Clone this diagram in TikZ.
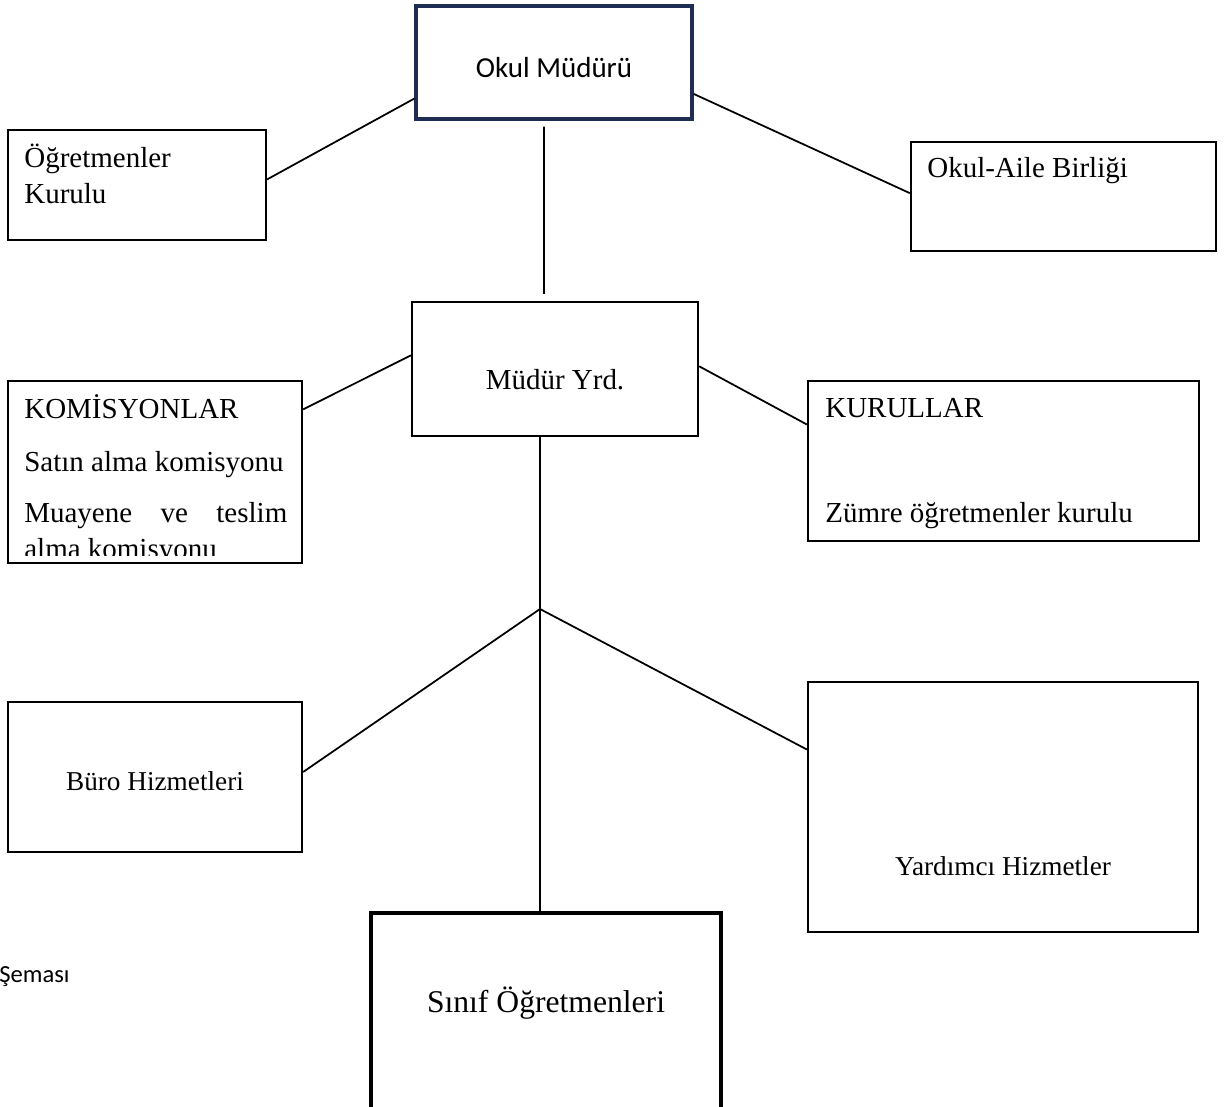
\documentclass[tikz,border=0pt]{standalone}
\usepackage{fontspec}
\setmainfont{Liberation Serif}
\newfontfamily\calibri{Carlito}
\usetikzlibrary{fit,calc}
\definecolor{headblue}{HTML}{1F2D55}

\begin{document}
\begin{tikzpicture}[x=0.02cm,y=-0.02cm,font=\fontsize{16.5}{20}\selectfont,box/.style={draw,line width=1.3pt,inner sep=0pt},bigbox/.style={draw,line width=1.8pt,inner sep=0pt},headbox/.style={draw=headblue,line width=1.8pt,inner sep=0pt},txt/.style={anchor=base west,inner sep=0pt},ctxt/.style={anchor=base,inner sep=0pt},link/.style={line width=1pt}]
\useasboundingbox (0,0) rectangle (1227,1106);
\clip (0,0) rectangle (1227,1106);
% boxes
\node[headbox,fit={(416,6) (692,119)}] (okul) {};
\node[box,fit={(8,130) (266,240)}] (ogrkurul) {};
\node[box,fit={(911,142) (1216,251)}] (aile) {};
\node[box,fit={(412,302) (698,436)}] (yrd) {};
\node[box,fit={(8,381) (302,563)}] (komisyon) {};
\node[box,fit={(808,381) (1199,541)}] (kurullar) {};
\node[box,fit={(8,702) (302,852)}] (buro) {};
\node[box,fit={(808,682) (1198,932)}] (yardimci) {};
\node[bigbox,fit={(371,913) (721,1130)}] (sinif) {};
% texts
\node[ctxt,font=\calibri\fontsize{16.5}{20}\selectfont] (okult) at (554,77) {Okul Müdürü};
\node[txt] (ogrt1) at (24,167) {Öğretmenler};\node[txt] (ogrt2) at (24,203) {Kurulu};
\node[txt] (ailet) at (927,177) {Okul-Aile Birliği};
\node[ctxt] (yrdt) at (555,389) {Müdür Yrd.};
\begin{scope}
\clip (10,383) rectangle (300,555);
\node[txt] (kom1) at (24,418) {KOMİSYONLAR};
\node[txt] (kom2) at (24,471) {Satın alma komisyonu};
\node[txt] (kom3) at (24,522) {\makebox[5.26cm][s]{Muayene ve teslim}};
\node[txt] (kom4) at (24,558) {alma komisyonu};
\end{scope}
\node[txt] (kur1) at (825,417) {KURULLAR};\node[txt] (kur2) at (825,522) {Zümre öğretmenler kurulu};
\node[ctxt,font=\fontsize{15.5}{19}\selectfont] (burot) at (155,790) {Büro Hizmetleri};
\node[ctxt,font=\fontsize{15.5}{19}\selectfont] (yardimcit) at (1003,875) {Yardımcı Hizmetler};
\node[ctxt,font=\fontsize{18}{22}\selectfont] (sinift) at (546,1012) {Sınıf Öğretmenleri};
\node[txt,font=\calibri\fontsize{14}{17}\selectfont] (sema) at (-1,982) {Şeması};
% connectors
\coordinate (dal) at (540,609);
\draw[link] ($(okul.north west)!0.81!(okul.south west)$) -- ($(ogrkurul.north east)!0.45!(ogrkurul.south east)$);
\draw[link] ($(okul.north east)!0.77!(okul.south east)$) -- ($(aile.north west)!0.47!(aile.south west)$);
\draw[link,shorten <=0.12cm,shorten >=0.14cm] ($(okul.south west)!0.464!(okul.south east)$) -- ($(yrd.north west)!0.462!(yrd.north east)$);
\draw[link] ($(yrd.north west)!0.4!(yrd.south west)$) -- ($(komisyon.north east)!0.16!(komisyon.south east)$);
\draw[link] ($(yrd.north east)!0.48!(yrd.south east)$) -- ($(kurullar.north west)!0.275!(kurullar.south west)$);
\draw[link] ($(yrd.south west)!0.448!(yrd.south east)$) -- ($(sinif.north west)!0.483!(sinif.north east)$);
\draw[link] (dal) -- ($(buro.north east)!0.467!(buro.south east)$);
\draw[link] (dal) -- ($(yardimci.north west)!0.272!(yardimci.south west)$);
\end{tikzpicture}
\end{document}
